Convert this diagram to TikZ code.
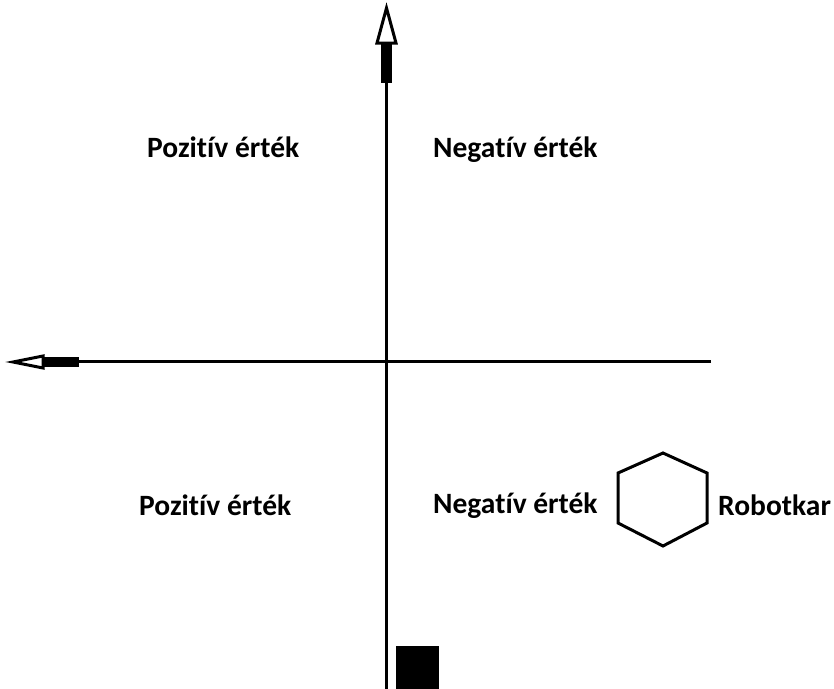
\documentclass[tikz,border=0pt]{standalone}
\usepackage{fontspec}
\setmainfont{Carlito}[Ligatures=NoCommon]
\begin{document}
\begin{tikzpicture}[x=1pt,y=-1pt,
  axis/.style={line width=3.5pt},
  head/.style={line width=3pt,fill=white,line join=miter},
  shaft/.style={fill=black},
  lbl/.style={font=\fontsize{29.5}{31}\selectfont\bfseries,anchor=base west,inner sep=0pt},
  hexa/.style={line width=3pt,line join=miter}]
\useasboundingbox (0,0) rectangle (834,688);
% axis end points
\coordinate (vbot) at (386.5,690);
\coordinate (vtop) at (386.5,82);
\coordinate (hright) at (711,361.5);
\coordinate (hleft) at (78,361.5);
% axes
\draw[axis] (vbot) -- (vtop);
\draw[axis] (hright) -- (hleft);
% vertical arrow head
\fill[shaft] (381,43) rectangle (392,83);
\draw[head] (386.5,8) -- (396,43) -- (377,43) -- cycle;
% horizontal arrow head
\fill[shaft] (43,357) rectangle (79,367);
\draw[head] (13,362) -- (43,356) -- (43,368) -- cycle;
% labels
\node[lbl] (pt) at (147,157) {Pozitív érték};
\node[lbl] (nt) at (433,157) {Negatív érték};
\node[lbl] (pb) at (139,515) {Pozitív érték};
\node[lbl] (nb) at (433,513) {Negatív érték};
\node[lbl] (rk) at (718,515) {Robotkar};
% hexagon
\draw[hexa] (663,453) -- (707,473) -- (707,523) -- (663,546) -- (618,523) -- (618,473) -- cycle;
% black square
\fill (396,646) rectangle (439,690);
\end{tikzpicture}
\end{document}
